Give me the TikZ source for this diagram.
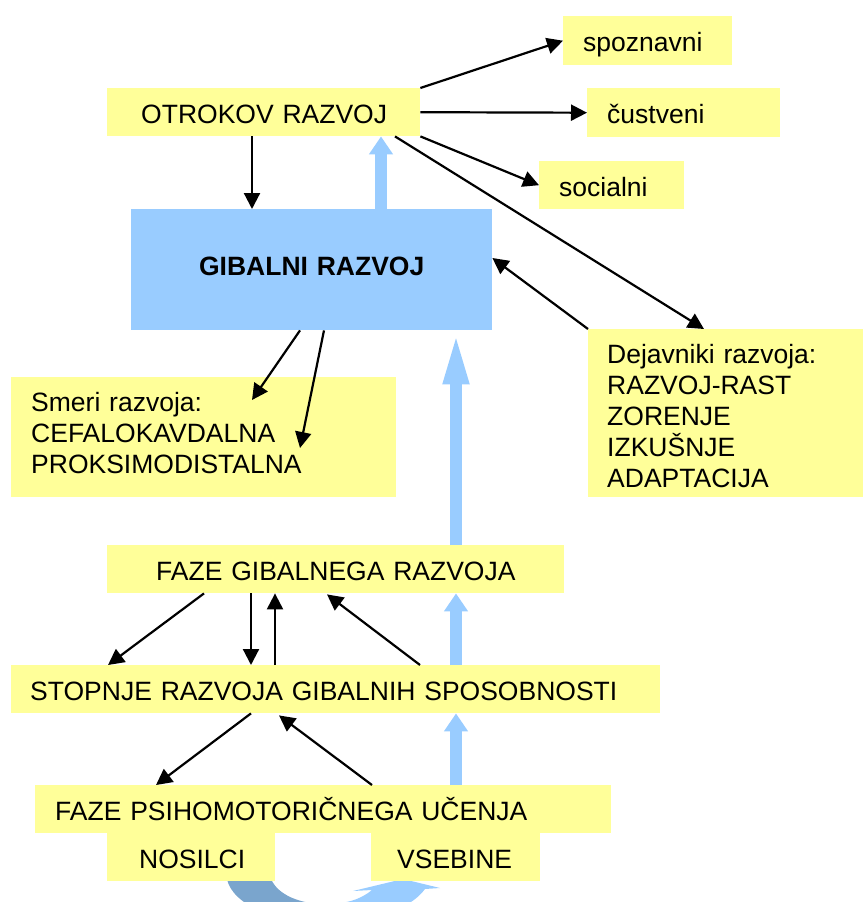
\documentclass[tikz,border=0pt]{standalone}
\usepackage{fontspec}
\setmainfont{Liberation Sans}
\usetikzlibrary{arrows.meta,calc}
\definecolor{boxyellow}{HTML}{FFFF99}
\definecolor{motorblue}{HTML}{99CCFF}
\definecolor{shadeblue}{HTML}{7AA5CD}

\begin{document}
\begin{tikzpicture}[x=1pt,y=-1pt,
  font=\fontsize{26.5}{31}\selectfont,
  panel/.style n args={2}{fill=boxyellow, anchor=north west, inner sep=0pt,
    align=left, minimum width=#1pt, minimum height=#2pt, text width=#1pt,
    text height=26pt, text depth=4pt},
  link/.style={draw=black, line width=2.2pt, -{Triangle[length=16pt,width=16pt]}},
  lift/.style={draw=motorblue, line width=12pt, -{Triangle[length=#1,width=23pt]}},
  lift/.default=18pt,
]
\clip (0,0) rectangle (863,902);

% curved arrow below NOSILCI / VSEBINE (dark back, light front)
\fill[shadeblue] (227,879) .. controls (232,905) and (280,925) .. (325,925)
  -- (325,904) .. controls (300,904) and (278,895) .. (271,879) -- cycle;
\fill[motorblue] (325,925) .. controls (365,925) and (410,910) .. (425,889)
  -- (440,888) -- (403,879) -- (353,891) -- (372,890)
  .. controls (360,900) and (345,904) .. (325,904) -- cycle;

% boxes
\node[panel={313}{48}] (otrok) at (107,88) {\hspace*{34pt}OTROKOV RAZVOJ};
\node[panel={169}{49}] (spoz) at (563,16) {\hspace*{20pt}spoznavni};
\node[panel={193}{49}] (cust) at (587,88) {\hspace*{20pt}čustveni};
\node[panel={145}{48}] (soc) at (539,161) {\hspace*{20pt}socialni};
\node[panel={361}{121}, fill=motorblue, align=center, text height=20pt, text depth=9pt,
  font=\fontsize{26.5}{31}\selectfont\bfseries] (gib) at (131,209) {GIBALNI RAZVOJ};
\node[panel={385}{120}, text height=20pt, text depth=72pt] (smeri) at (11,377)
  {\hspace*{20pt}Smeri razvoja:\\\hspace*{20pt}CEFALOKAVDALNA\\\hspace*{20pt}PROKSIMODISTALNA};
\node[panel={275}{168}, text height=20pt, text depth=120pt] (dej) at (588,329)
  {\hspace*{19pt}Dejavniki razvoja:\\\hspace*{19pt}RAZVOJ-RAST\\\hspace*{19pt}ZORENJE\\\hspace*{19pt}IZKUŠNJE\\\hspace*{19pt}ADAPTACIJA};
\node[panel={457}{48}] (fgr) at (107,545) {\hspace*{49pt}FAZE GIBALNEGA RAZVOJA};
\node[panel={649}{48}] (stop) at (11,665) {\hspace*{19pt}STOPNJE RAZVOJA GIBALNIH SPOSOBNOSTI};
\node[panel={576}{48}] (fpu) at (35,785) {\hspace*{20pt}FAZE PSIHOMOTORIČNEGA UČENJA};
\node[panel={168}{48}] (nos) at (107,833) {\hspace*{32pt}NOSILCI};
\node[panel={169}{48}] (vseb) at (371,833) {\hspace*{26pt}VSEBINE};

% black connectors
\draw[link] (otrok.north east) -- (spoz.west);
\draw[link] (otrok.east) -- (cust.west);
\draw[link] (otrok.south east) -- (soc.west);
\draw[link] ($(otrok.south west)+(288,0)$) -- ($(dej.north west)+(116,0)$);
\draw[link] ($(otrok.south west)+(145,0)$) -- ($(gib.north west)+(121,0)$);
\draw[link] (dej.north west) -- ($(gib.north east)+(0,49)$);
\draw[link] ($(gib.south west)+(169,0)$) -- ($(smeri.north west)+(241,23)$);
\draw[link] ($(gib.south west)+(193,0)$) -- ($(smeri.north west)+(289,71)$);
\draw[link] ($(fgr.south west)+(97,0)$) -- ($(stop.north west)+(97,0)$);
\draw[link] ($(fgr.south west)+(144,0)$) -- ($(stop.north west)+(240,0)$);
\draw[link] ($(stop.north west)+(264,0)$) -- ($(fgr.south west)+(168,0)$);
\draw[link] ($(stop.north west)+(409,0)$) -- ($(fgr.south west)+(220,1)$);
\draw[link] ($(stop.south west)+(240,0)$) -- ($(fpu.north west)+(121,0)$);
\draw[link] ($(fpu.north west)+(337,0)$) -- ($(stop.south west)+(268,2)$);

% blue connectors
\draw[lift] ($(gib.north west)+(250,0)$) -- ($(otrok.south west)+(274,0)$);
\draw[lift=54pt] ($(fgr.north west)+(349,0)$) -- ($(gib.south west)+(325,0)$);
\draw[lift] ($(stop.north west)+(445,0)$) -- ($(fgr.south west)+(349,0)$);
\draw[lift] ($(fpu.north west)+(421,0)$) -- ($(stop.south west)+(445,0)$);
\end{tikzpicture}
\end{document}
